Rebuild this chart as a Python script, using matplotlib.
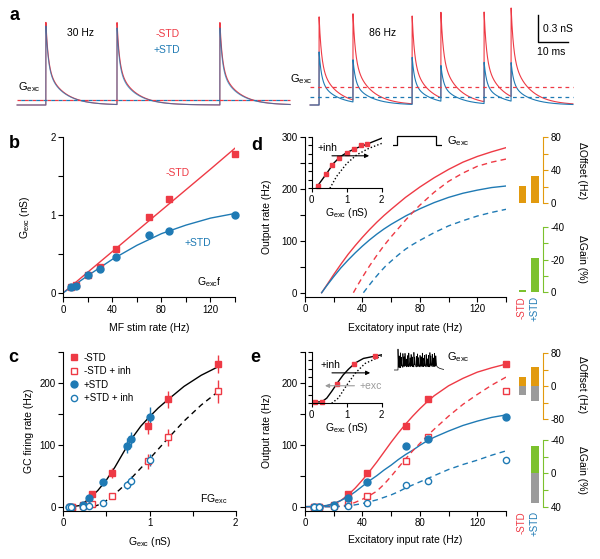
import numpy as np
import matplotlib
matplotlib.use('Agg')
import matplotlib.pyplot as plt
from matplotlib.lines import Line2D

plt.rcParams['font.family'] = ['Liberation Sans', 'DejaVu Sans']
plt.rcParams['mathtext.fontset'] = 'custom'
plt.rcParams['mathtext.rm'] = 'Liberation Sans'
plt.rcParams['mathtext.it'] = 'Liberation Sans:italic'
plt.rcParams['axes.unicode_minus'] = False
plt.rcParams['font.size'] = 7
plt.rcParams['axes.linewidth'] = 0.8

RED = '#ee3a45'
BLUE = '#1f7ab4'
ORANGE = '#e29a0e'
GREEN = '#7cc12d'
GRAY = '#9b9b9b'
GX = r'G$_{\rm exc}$'

# ---------------- data ----------------
# a: conductance trains (spike times in ms, amplitudes in nS)
a30_times = [10.3, 34.0, 68.3]
a30_amp_nostd = [0.92, 0.92, 0.92]
a30_amp_std = [0.88, 0.86, 0.86]
a30_mean = 0.055
a86_times = [4.7, 16.0, 35.7, 45.3, 59.7, 68.7]
a86_amp_nostd = [0.98, 0.96, 0.99, 0.96, 1.0, 0.99]
a86_amp_std = [0.59, 0.47, 0.53, 0.40, 0.46, 0.43]
a86_mean_nostd = 0.20
a86_mean_std = 0.09

# b
mf_rate = [6, 10, 20, 30, 43, 70, 86, 140]
gexc_nostd = [0.08, 0.10, 0.23, 0.33, 0.56, 0.98, 1.21, 1.79]
gexc_std = [0.07, 0.09, 0.23, 0.30, 0.46, 0.74, 0.79, 1.00]
fit_b_x = [0, 20, 40, 60, 80, 100, 120, 140]
fit_b_nostd = [0, 0.265, 0.53, 0.795, 1.06, 1.325, 1.59, 1.86]
fit_b_std = [0, 0.22, 0.43, 0.61, 0.76, 0.87, 0.96, 1.02]

# c  (firing rates at the conductances of b)
fr_nostd = [0, 0, 3, 20, 55, 130, 173, 230]
fr_nostd_err = [1, 1, 2, 5, 8, 12, 14, 15]
fr_nostd_inh = [0, 0, 1, 5, 17, 73, 112, 186]
fr_nostd_inh_err = [1, 1, 1, 2, 4, 12, 14, 18]
fr_std = [0, 0, 3, 14, 40, 98, 109, 145]
fr_std_err = [1, 1, 2, 4, 5, 12, 12, 15]
fr_std_inh = [0, 0, 0, 1, 6, 35, 42, 75]
fr_std_inh_err = [1, 1, 1, 1, 2, 6, 7, 10]
c_g = [0.1, 0.2, 0.3, 0.4, 0.5, 0.6, 0.7, 0.8, 0.9, 1.0, 1.1, 1.2, 1.4, 1.6, 1.8]
c_fit = [0, 2, 13, 26, 43, 64, 88, 111, 130, 145, 159, 171, 194, 212, 226]
c_g_inh = [0.35, 0.45, 0.55, 0.65, 0.75, 0.85, 1.0, 1.2, 1.4, 1.6, 1.8]
c_fit_inh = [0, 5, 15, 27, 40, 55, 77, 108, 138, 164, 186]

# d  (model, step input)
d_x = [11.6, 15, 20, 25, 30, 35, 40, 45, 50, 55, 60, 70, 80, 90, 100, 110, 120, 130, 140]
d_nostd = [0, 14, 35, 55, 74, 91, 107, 122, 136, 149, 161, 184, 204, 222, 238, 252, 263, 272, 280]
d_std = [0, 13, 31, 48, 63, 77, 90, 102, 113, 123, 132, 148, 162, 174, 184, 192, 198, 203, 206]
d_x_nostd_inh = [33.7, 37, 40, 45, 50, 55, 60, 65, 70, 75, 80, 90, 100, 110, 120, 130, 140]
d_nostd_inh = [0, 16, 30, 52, 72, 91, 108, 124, 140, 155, 169, 194, 215, 231, 244, 252, 258]
d_x_std_inh = [40.7, 44, 48, 52, 56, 60, 65, 70, 75, 80, 90, 100, 110, 120, 130, 140]
d_std_inh = [0, 12, 26, 39, 51, 61, 73, 84, 93, 101, 116, 129, 139, 148, 155, 161]
d_ins_g = [0.14, 0.29, 0.43, 0.62, 0.81, 1.0, 1.24, 1.52, 2.0]
d_ins_ctrl = [0.02, 0.16, 0.29, 0.48, 0.61, 0.69, 0.77, 0.84, 0.97]
d_ins_g_inh = [0.52, 0.71, 1.0, 1.29, 1.62, 2.0]
d_ins_inh = [0.0, 0.23, 0.48, 0.65, 0.77, 0.87]
d_ins_pts_g = [0.17, 0.4, 0.59, 0.79, 1.0, 1.22, 1.41, 1.57]
d_ins_pts = [0.05, 0.27, 0.45, 0.58, 0.69, 0.77, 0.83, 0.85]
pulse_t = [0, 3.5, 3.5, 43, 43, 48.5]
pulse_y = [0, 0, 1, 1, 0, 0]

# e  (model, synaptic input)
e_x = [0, 10, 15, 20, 25, 30, 35, 40, 45, 50, 55, 60, 65, 70, 75, 80, 85, 90, 100, 110, 120, 130, 140]
e_nostd = [0, 0.5, 1.5, 4, 10, 19, 30, 43, 57, 72, 88, 104, 119, 133, 146, 158, 169, 179,
           195, 207, 217, 224, 230]
e_std = [0, 0.5, 2, 5, 10, 16, 24, 33, 42, 50, 59, 67, 76, 84, 91, 99, 106, 112,
         122, 131, 138, 144, 148]
e_nostd_inh = [0, 0, 0, 0, 1, 3, 7, 12, 18, 25, 36, 49, 63, 77, 90, 102, 114, 125,
               146, 165, 181, 196, 209]
e_std_inh = [0, 0, 0, 0, 0.3, 1, 3, 5, 8, 11, 15, 19, 24, 30, 35, 40, 45, 50,
             60, 68, 75, 83, 90]
e_ins_g = [0.0, 0.29, 0.43, 0.57, 0.76, 0.9, 1.05, 1.24, 1.48, 2.0]
e_ins_ctrl = [0.02, 0.03, 0.10, 0.23, 0.42, 0.55, 0.66, 0.78, 0.87, 0.94]
e_ins_g_inh = [0.57, 0.76, 1.0, 1.24, 1.52, 2.0]
e_ins_inh = [0.0, 0.10, 0.35, 0.58, 0.77, 0.92]
e_ins_pts_g = [0.08, 0.3, 0.72, 1.22, 1.8]
e_ins_pts = [0.02, 0.03, 0.38, 0.77, 0.92]
icon_times = [4.0, 5.2, 6.5, 7.4, 8.9, 10.1, 11.0, 12.6, 13.5, 14.8, 16.2, 17.1,
              18.5, 19.9, 20.7, 22.3, 23.4, 24.6, 26.0, 27.1, 28.3, 29.8, 30.6,
              32.1, 33.3, 34.5, 35.9, 36.8, 38.2, 39.5, 40.6, 41.8]
icon_amps = [21, 12, 15, 9, 14, 10, 13, 8, 11, 14, 9, 12, 10, 15, 8, 11, 13, 9,
             12, 10, 14, 9, 11, 13, 8, 12, 15, 10, 13, 9, 14, 11]

# bars
bar_names = ['-STD', '+STD']
d_offset = [21, 33]
d_gain = [-1.5, -20.7]
e_offset_exc = [23.5, 46]
e_offset_inh = [-21, -35]
e_gain_exc = [-0.8, -33]
e_gain_inh = [0, 35]

# ---------------- layout ----------------
W, H = 600, 559
fig = plt.figure(figsize=(6, 5.59), dpi=100)


def add_ax(x0, y0, x1, y1):
    return fig.add_axes([x0 / W, 1 - y1 / H, (x1 - x0) / W, (y1 - y0) / H])


def style(ax):
    for s in ['top', 'right']:
        ax.spines[s].set_visible(False)
    ax.tick_params(direction='out', length=3.5, width=0.8, labelsize=7, pad=2)


def letter(x, y, s):
    fig.text(x / W, 1 - y / H, s, fontsize=13, fontweight='bold', ha='left', va='baseline')


def syn_trace(t, times, amps, f_fast=0.55, tf=0.8, ts=5.5):
    g = np.zeros_like(t)
    for ti, a in zip(times, amps):
        dt = t - ti
        m = dt >= 0
        g[m] += a * (f_fast * np.exp(-dt[m] / tf) + (1 - f_fast) * np.exp(-dt[m] / ts))
    return g


# ---- a ----
axa1 = add_ax(15, 5, 295, 115)
axa2 = add_ax(305, 5, 575, 115)
for ax, xmax in [(axa1, 280 / 3), (axa2, 90)]:
    ax.set_xlim(0, xmax)
    ax.set_ylim(-10 / 90, 100 / 90)
    ax.axis('off')

t1 = np.linspace(0.7, 91.7, 4000)
axa1.plot(t1, syn_trace(t1, a30_times, a30_amp_nostd), color=RED, lw=0.8)
axa1.plot(t1, syn_trace(t1, a30_times, a30_amp_std), color=BLUE, lw=0.8, alpha=0.7)
axa1.plot([0.7, 91.7], [a30_mean] * 2, color=RED, lw=0.9, ls=(0, (3, 3)))
axa1.plot([0.7, 91.7], [a30_mean] * 2, color=BLUE, lw=0.9, ls=(3, (3, 3)))
axa1.text(21.7, 0.8, '30 Hz', fontsize=7.5, ha='center', va='center')
axa1.text(50.8, 0.79, '-STD', fontsize=7.5, color=RED, ha='center', va='center')
axa1.text(50.7, 0.61, '+STD', fontsize=7.5, color=BLUE, ha='center', va='center')
axa1.text(1, 0.2, GX, fontsize=8, ha='left', va='center')

t2 = np.linspace(1.7, 89.3, 4000)
axa2.plot(t2, syn_trace(t2, a86_times, a86_amp_nostd), color=RED, lw=0.8)
axa2.plot(t2, syn_trace(t2, a86_times, a86_amp_std), color=BLUE, lw=0.8)
axa2.plot([1.7, 89.3], [a86_mean_nostd] * 2, color=RED, lw=0.9, ls=(0, (3, 3)))
axa2.plot([1.7, 89.3], [a86_mean_std] * 2, color=BLUE, lw=0.9, ls=(0, (3, 3)))
axa2.text(25.7, 0.8, '86 Hz', fontsize=7.5, ha='center', va='center')
axa2.text(-5, 0.29, GX, fontsize=8, ha='left', va='center')
axa2.plot([77.6, 77.6, 87.6], [1.003, 0.703, 0.703], color='k', lw=1, clip_on=False)
axa2.text(79.4, 0.85, '0.3 nS', fontsize=7.5, ha='left', va='center')
axa2.text(77.4, 0.585, '10 ms', fontsize=7.5, ha='left', va='center')

# ---- b ----
axb = add_ax(63.3, 137.3, 235, 297)
style(axb)
axb.plot(fit_b_x, fit_b_nostd, color=RED, lw=1)
axb.plot(fit_b_x, fit_b_std, color=BLUE, lw=1)
axb.plot(mf_rate, gexc_nostd, 's', color=RED, ms=5, clip_on=False)
axb.plot(mf_rate, gexc_std, 'o', color=BLUE, ms=5, clip_on=False)
axb.set_xlim(0, 140)
axb.set_ylim(-0.055, 2)
axb.set_xticks(range(0, 141, 20))
axb.set_xticklabels(['0', '', '40', '', '80', '', '120', ''])
axb.set_yticks([0, 0.5, 1, 1.5, 2])
axb.set_yticklabels(['0', '', '1', '', '2'])
axb.set_xlabel('MF stim rate (Hz)', fontsize=7.5, labelpad=6)
axb.set_ylabel(GX + ' (nS)', fontsize=7.5, labelpad=13)
axb.text(83, 1.54, '-STD', color=RED, fontsize=7.5, va='center')
axb.text(99, 0.64, '+STD', color=BLUE, fontsize=7.5, va='center')
axb.text(109, 0.14, GX + 'f', fontsize=7.5, va='center')

# ---- c ----
axc = add_ax(63.3, 351.7, 235.7, 510.7)
style(axc)
axc.plot(c_g, c_fit, color='k', lw=1)
axc.plot(c_g_inh, c_fit_inh, color='k', lw=1, ls=(0, (4, 3)))
axc.errorbar(gexc_nostd, fr_nostd, yerr=fr_nostd_err, fmt='s', color=RED, ms=5,
             elinewidth=1, capsize=0, clip_on=False)
axc.errorbar(gexc_nostd, fr_nostd_inh, yerr=fr_nostd_inh_err, fmt='s', color=RED, ms=5,
             mfc='white', mew=1, elinewidth=1, capsize=0, clip_on=False)
axc.errorbar(gexc_std, fr_std, yerr=fr_std_err, fmt='o', color=BLUE, ms=5,
             elinewidth=1, capsize=0, clip_on=False)
axc.errorbar(gexc_std, fr_std_inh, yerr=fr_std_inh_err, fmt='o', color=BLUE, ms=4.5,
             mfc='white', mew=1, elinewidth=1, capsize=0, clip_on=False)
axc.set_xlim(0, 2)
axc.set_ylim(-6.5, 250)
axc.set_xticks([0, 0.5, 1, 1.5, 2])
axc.set_xticklabels(['0', '', '1', '', '2'])
axc.set_yticks(range(0, 251, 50))
axc.set_yticklabels(['0', '', '100', '', '200', ''])
axc.set_xlabel(GX + ' (nS)', fontsize=7.5, labelpad=5)
axc.set_ylabel('GC firing rate (Hz)', fontsize=7.5, labelpad=4)
axc.text(1.9, 12, 'F' + GX, fontsize=7.5, ha='right', va='center')
handles = [
    Line2D([], [], ls='none', marker='s', color=RED, ms=5),
    Line2D([], [], ls='none', marker='s', color=RED, mfc='white', mew=1, ms=5),
    Line2D([], [], ls='none', marker='o', color=BLUE, ms=5),
    Line2D([], [], ls='none', marker='o', color=BLUE, mfc='white', mew=1, ms=4.5),
]
axc.legend(handles, ['-STD', '-STD + inh', '+STD', '+STD + inh'], loc='upper left',
           bbox_to_anchor=(0.0, 1.03), frameon=False, fontsize=7, handlelength=1,
           handletextpad=0.5, labelspacing=0.35, borderaxespad=0.2)

# ---- d ----
axd = add_ax(305, 137.3, 506, 296.7)
style(axd)
axd.plot(d_x, d_nostd, color=RED, lw=1)
axd.plot(d_x, d_std, color=BLUE, lw=1)
axd.plot(d_x_nostd_inh, d_nostd_inh, color=RED, lw=1, ls=(0, (4, 3)))
axd.plot(d_x_std_inh, d_std_inh, color=BLUE, lw=1, ls=(0, (4, 3)))
axd.set_xlim(0, 140)
axd.set_ylim(-7.7, 300)
axd.set_xticks(range(0, 141, 20))
axd.set_xticklabels(['0', '', '40', '', '80', '', '120', ''])
axd.set_yticks(range(0, 301, 50))
axd.set_yticklabels(['0', '', '100', '', '200', '', '300'])
axd.set_xlabel('Excitatory input rate (Hz)', fontsize=7.5, labelpad=6)
axd.set_ylabel('Output rate (Hz)', fontsize=7.5, labelpad=7)

# ---- e ----
axe = add_ax(305, 351.7, 506, 510.7)
style(axe)
axe.plot(e_x, e_nostd, color=RED, lw=1)
axe.plot(e_x, e_std, color=BLUE, lw=1)
axe.plot(e_x, e_nostd_inh, color=RED, lw=1, ls=(0, (4, 3)))
axe.plot(e_x, e_std_inh, color=BLUE, lw=1, ls=(0, (4, 3)))
axe.plot(mf_rate, fr_nostd, 's', color=RED, ms=5, clip_on=False)
axe.plot(mf_rate, fr_nostd_inh, 's', color=RED, mfc='white', mew=1, ms=5, clip_on=False)
axe.plot(mf_rate, fr_std, 'o', color=BLUE, ms=5, clip_on=False)
axe.plot(mf_rate, fr_std_inh, 'o', color=BLUE, mfc='white', mew=1, ms=4.5, clip_on=False)
axe.set_xlim(0, 140)
axe.set_ylim(-6.5, 250)
axe.set_xticks(range(0, 141, 20))
axe.set_xticklabels(['0', '', '40', '', '80', '', '120', ''])
axe.set_yticks(range(0, 251, 50))
axe.set_yticklabels(['0', '', '100', '', '200', ''])
axe.set_xlabel('Excitatory input rate (Hz)', fontsize=7.5, labelpad=5)
axe.set_ylabel('Output rate (Hz)', fontsize=7.5, labelpad=7)


# ---- insets ----
def inset(y0, y1):
    ax = add_ax(311.7, y0, 381.7, y1)
    style(ax)
    ax.set_xlim(0, 2)
    ax.set_ylim(0, 1)
    ax.set_xticks([0, 1, 2])
    ax.set_yticks(np.linspace(0, 1, 7))
    ax.set_yticklabels([])
    ax.tick_params(length=3, pad=1.5)
    ax.set_xlabel(GX + ' (nS)', fontsize=7.5, labelpad=1)
    ax.patch.set_visible(False)
    return ax


insd = inset(136.7, 188.3)
insd.plot(d_ins_g, d_ins_ctrl, color='k', lw=1)
insd.plot(d_ins_g_inh, d_ins_inh, color='k', lw=1, ls=(0, (1, 1.5)))
insd.plot(d_ins_pts_g, d_ins_pts, 's', color=RED, ms=3, clip_on=False)
insd.annotate('', xy=(1.72, 0.63), xytext=(0.5, 0.63),
              arrowprops=dict(arrowstyle='-|>', color='k', lw=0.8, mutation_scale=6))
insd.text(0.18, 0.78, '+inh', fontsize=7.5, va='center')

inse = inset(351.7, 403.3)
inse.plot(e_ins_g, e_ins_ctrl, color='k', lw=1)
inse.plot(e_ins_g_inh, e_ins_inh, color='k', lw=1, ls=(0, (1, 1.5)))
inse.plot(e_ins_pts_g, e_ins_pts, 's', color=RED, ms=3, clip_on=False)
inse.annotate('', xy=(1.75, 0.59), xytext=(0.5, 0.59),
              arrowprops=dict(arrowstyle='-|>', color='k', lw=0.8, mutation_scale=6))
inse.annotate('', xy=(0.3, 0.34), xytext=(1.3, 0.34),
              arrowprops=dict(arrowstyle='-|>', color=GRAY, lw=0.8, mutation_scale=6))
inse.text(0.24, 0.75, '+inh', fontsize=7.5, va='center')
inse.text(1.38, 0.34, '+exc', fontsize=7.5, color=GRAY, va='center')

# input icons
axp = add_ax(393, 134, 442, 147)
axp.plot(pulse_t, pulse_y, color='k', lw=0.9)
axp.set_xlim(0, 49)
axp.set_ylim(-0.22, 1.22)
axp.axis('off')
fig.text(447 / W, 1 - 141 / H, GX, fontsize=8, ha='left', va='center')

axi = add_ax(394, 346, 444, 374)
ti = np.linspace(0, 50, 2000)
axi.plot(ti, syn_trace(ti, icon_times, icon_amps, f_fast=0.9, tf=0.35, ts=4.0), color='k', lw=0.5)
axi.set_xlim(0, 50)
axi.set_ylim(-4, 24)
axi.axis('off')
fig.text(447 / W, 1 - 357 / H, GX, fontsize=8, ha='left', va='center')


# ---- bar panels ----
def bar_ax(y0, y1, lim, ticks, labels, color):
    ax = add_ax(512, y0, 543.3, y1)
    ax.set_xlim(-0.82, 1.625)
    ax.set_ylim(*lim)
    for s in ['top', 'left', 'bottom']:
        ax.spines[s].set_visible(False)
    ax.spines['right'].set_color(color)
    ax.yaxis.tick_right()
    ax.tick_params(axis='y', colors=color, labelcolor='black', length=3.5, width=0.8,
                   direction='out', labelsize=7, pad=2)
    ax.set_xticks([])
    ax.set_yticks(ticks)
    ax.set_yticklabels(labels)
    ax.patch.set_visible(False)
    return ax


bo = bar_ax(137.3, 203.3, (0, 80), [0, 20, 40, 60, 80], ['0', '', '40', '', '80'], ORANGE)
bo.bar([0, 1], d_offset, width=0.62, color=ORANGE)
bg = bar_ax(226.7, 292.3, (0, -40), [0, -10, -20, -30, -40], ['0', '', '-20', '', '-40'], GREEN)
bg.bar([0, 1], d_gain, width=0.62, color=GREEN)

eo = bar_ax(353.3, 419, (-80, 80), [-80, -40, 0, 40, 80], ['-80', '', '0', '', '80'], ORANGE)
eo.bar([0, 1], e_offset_exc, width=0.62, color=ORANGE)
eo.bar([0, 1], e_offset_inh, width=0.62, color=GRAY)
eg = bar_ax(440, 506.7, (40, -40), [-40, -20, 0, 20, 40], ['-40', '', '0', '', '40'], GREEN)
eg.bar([0, 1], e_gain_exc, width=0.62, color=GREEN)
eg.bar([0, 1], e_gain_inh, width=0.62, color=GRAY)

for ytop in [296, 511]:
    for xc, name, col in zip([521.5, 535], bar_names, [RED, BLUE]):
        fig.text(xc / W, 1 - ytop / H, name, rotation=90, color=col, fontsize=7,
                 ha='center', va='top')

for yc, lab in [(171, 'ΔOffset (Hz)'), (259, 'ΔGain (%)'),
                (385, 'ΔOffset (Hz)'), (470, 'ΔGain (%)')]:
    fig.text(582 / W, 1 - yc / H, lab, rotation=270, fontsize=7.5, ha='center', va='center')

# ---- panel letters ----
letter(9, 20, 'a')
letter(9, 148, 'b')
letter(8, 362, 'c')
letter(251, 150, 'd')
letter(250, 362, 'e')

fig.savefig('out.png', dpi=100)
